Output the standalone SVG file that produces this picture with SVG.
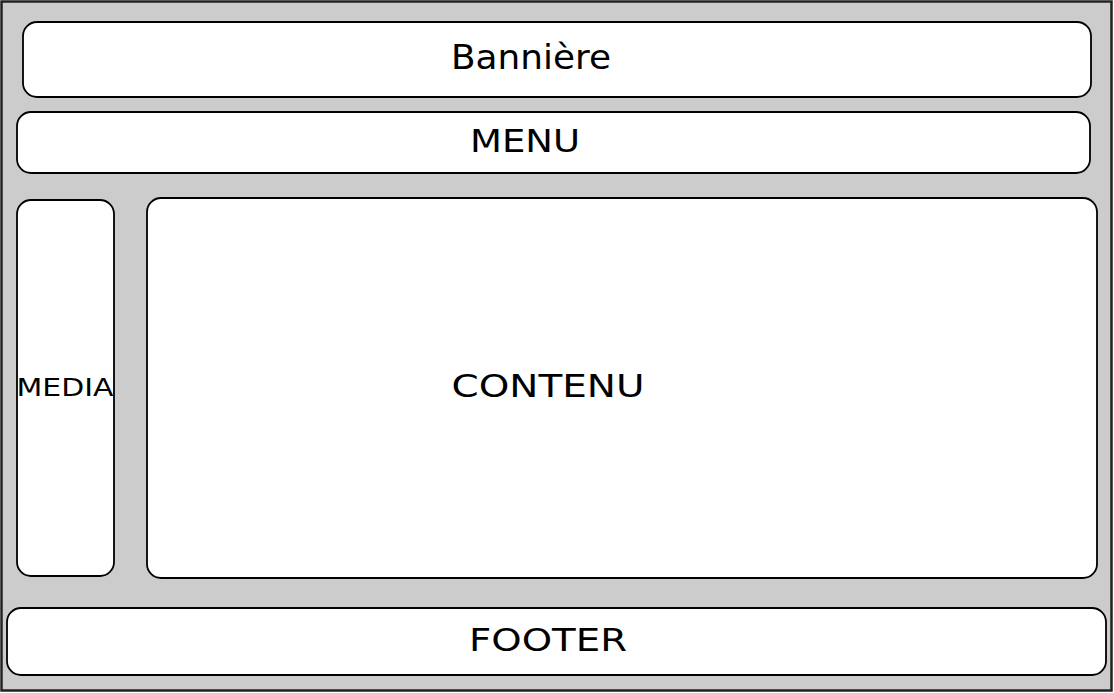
<svg xmlns="http://www.w3.org/2000/svg" width="1114" height="693" viewBox="0 0 1114 693">
<style>
.box{fill:#ffffff;stroke:#000000;stroke-width:1.8}
.lbl{font-family:"DejaVu Sans","Noto Sans",sans-serif;fill:#000000;text-anchor:middle;dominant-baseline:central}
</style>
<rect id="bg" x="1.5" y="1.5" width="1110" height="689" fill="#cccccc" stroke="#222222" stroke-width="2.5"/>
<g id="banniere"><rect class="box" x="23" y="22" width="1068" height="75" rx="14"/><text class="lbl" x="531" y="57" font-size="33" textLength="160" lengthAdjust="spacingAndGlyphs">Bannière</text></g>
<g id="menu"><rect class="box" x="17" y="112" width="1073" height="61" rx="14"/><text class="lbl" x="525" y="141" font-size="32" textLength="110" lengthAdjust="spacingAndGlyphs">MENU</text></g>
<g id="media"><rect class="box" x="17" y="200" width="97" height="376" rx="14"/><text class="lbl" x="65" y="387" font-size="25" textLength="97" lengthAdjust="spacingAndGlyphs">MEDIA</text></g>
<g id="contenu"><rect class="box" x="147" y="198" width="950" height="380" rx="14"/><text class="lbl" x="548" y="386" font-size="32" textLength="193" lengthAdjust="spacingAndGlyphs">CONTENU</text></g>
<g id="footer"><rect class="box" x="7" y="608" width="1099" height="67" rx="14"/><text class="lbl" x="548" y="640" font-size="32" textLength="158" lengthAdjust="spacingAndGlyphs">FOOTER</text></g>
<g id="connectors"/>
</svg>
